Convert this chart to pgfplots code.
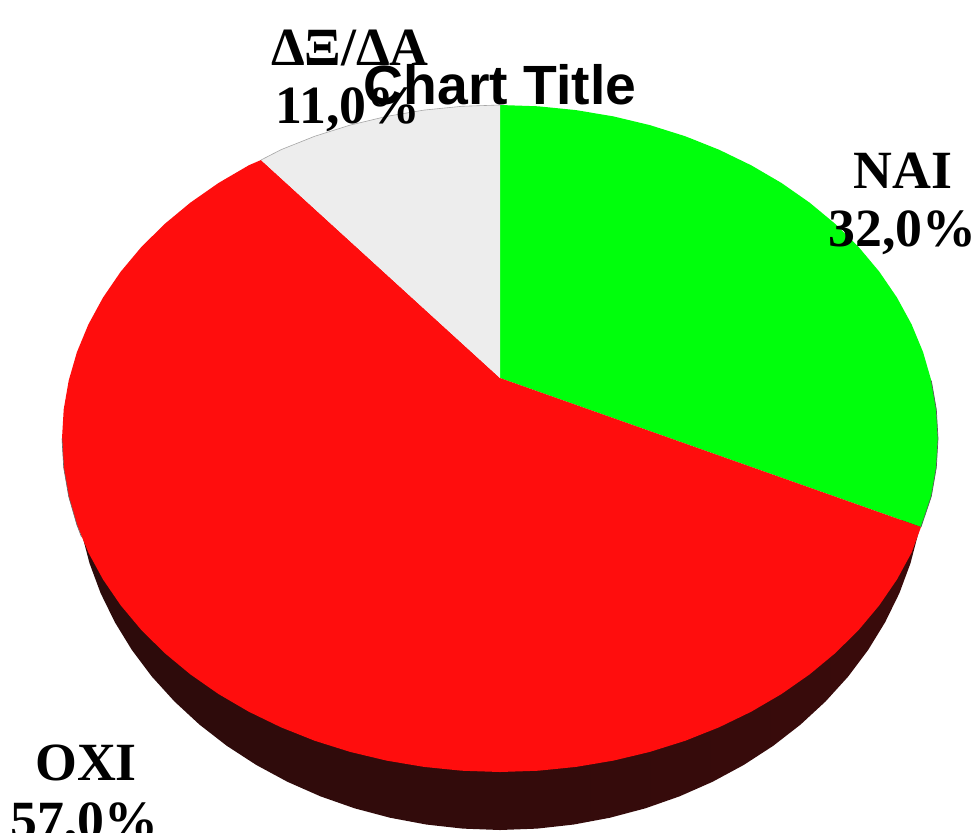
\documentclass[border=0pt]{standalone}
\usepackage{fontspec}
\setmainfont{Liberation Serif}
\newfontfamily\titlefont{Liberation Sans}
\usepackage{pgfplots}
\pgfplotsset{compat=1.18}
\definecolor{pieGreen}{HTML}{00FF0C}
\definecolor{pieRed}{HTML}{FF0D0D}
\definecolor{pieGrey}{HTML}{EDEDED}
\definecolor{sideL}{HTML}{2C0B0B}
\definecolor{sideM}{HTML}{2C0A0A}
\definecolor{sideR}{HTML}{3A0B0B}
\definecolor{bgEdge}{HTML}{E9E9E9}
\pgfdeclareradialshading{vignette}{\pgfpoint{0bp}{0bp}}{color(0bp)=(white);color(40bp)=(white);color(70bp)=(bgEdge)}
\newcommand{\lab}[1]{\fontsize{54}{60}\selectfont\bfseries #1}
\begin{document}
\begin{tikzpicture}
\begin{axis}[
scale only axis,width=980bp,height=832bp,
xmin=0,xmax=980,ymin=0,ymax=832,y dir=reverse,
hide axis,clip=false,
every node/.style={inner sep=0pt,outer sep=0pt,anchor=base,text=black},
]
% background
\addplot[draw=none,shading=vignette] coordinates {(0,0) (980,0) (980,832) (0,832)} --cycle;
% side of the pie
\addplot[draw=none,left color=sideL,middle color=sideM,right color=sideR] coordinates {
(921,520) (918.5,532.5) (910.5,563.2) (899.4,593.1) (885.2,622.1) (868.1,650) (848.2,676.5) (825.6,701.4) (800.5,724.6) (773.2,745.8) (743.8,764.9) (712.5,781.8) (679.6,796.3) (645.4,808.3) (610,817.7) (573.8,824.5) (537.1,828.6) (500,830)
(462.9,828.6) (426.2,824.5) (390,817.7) (354.6,808.3) (320.4,796.3) (287.5,781.8) (256.2,764.9) (226.8,745.8) (199.5,724.6) (174.4,701.4) (151.8,676.5) (131.9,650) (114.8,622.1) (100.6,593.1) (89.5,563.2) (81.5,532.5) (79,520)
} --cycle;
% NAI 32,0%
\addplot[draw=none,fill=pieGreen] coordinates {
(500,378) (500,105) (538.2,106.3) (576,110.1) (613.4,116.4) (649.8,125.1) (685.1,136.2) (719,149.7) (751.2,165.3) (781.5,183) (809.7,202.7) (835.5,224.1) (858.8,247.2) (879.3,271.7) (897,297.6) (911.6,324.4) (923.1,352.2) (931.3,380.6) (936.3,409.4) (938,438.5) (936.3,467.6) (931.3,496.4) (921,527)
} --cycle;
% OXI 57,0%
\addplot[draw=none,fill=pieRed] coordinates {
(500,378) (921,527) (911.6,552.6) (897,579.4) (879.3,605.3) (858.8,629.8) (835.5,652.9) (809.7,674.3) (781.5,694) (751.2,711.7) (719,727.3) (685.1,740.8) (649.8,751.9) (613.4,760.6) (576,766.9) (538.2,770.7) (500,772)
(461.8,770.7) (424,766.9) (386.6,760.6) (350.2,751.9) (314.9,740.8) (281,727.3) (248.8,711.7) (218.5,694) (190.3,674.3) (164.5,652.9) (141.2,629.8) (120.7,605.3) (103,579.4) (88.4,552.6) (76.9,524.8) (68.7,496.4) (63.7,467.6) (62,438.5) (63.7,409.4) (68.7,380.6) (76.9,352.2) (88.4,324.4) (103,297.6) (120.7,271.7) (141.2,247.2) (164.5,224.1) (190.3,202.7) (218.5,183) (248.8,165.3) (261,160)
} --cycle;
% DX/DA 11,0%
\addplot[draw=none,fill=pieGrey] coordinates {
(500,378) (261,160) (281,149.7) (314.9,136.2) (350.2,125.1) (386.6,116.4) (424,110.1) (461.8,106.3) (500,105)
} --cycle;
% thin rim lines
\addplot[draw=black!65,line width=0.7pt] coordinates {(931.3,380.6) (936.3,409.4) (938,438.5) (936.3,467.6) (931.3,496.4) (921,527)};
\addplot[draw=black!60,line width=0.6pt] coordinates {(62,438.5) (63.7,467.6) (68.7,496.4) (76.9,524.8) (81.5,537)};
\addplot[draw=black!35,line width=0.6pt] coordinates {(261,160) (281,149.7) (314.9,136.2) (350.2,125.1) (386.6,116.4) (424,110.1) (461.8,106.3) (500,105)};
% labels
\node at (axis cs:903,171) {\lab{NAI}};
\node at (axis cs:902.5,233) {\lab{32,0\%}};
\node at (axis cs:350,48) {\lab{ΔΞ/ΔΑ}};
\node at (axis cs:348,110) {\lab{11,0\%}};
\node at (axis cs:86,763) {\lab{OXI}};
\node[overlay] at (axis cs:84.5,825) {\lab{57,0\%}};
\node at (axis cs:500,85) {\titlefont\fontsize{55.5}{60}\selectfont\bfseries Chart Title};
\end{axis}
\end{tikzpicture}
\end{document}
